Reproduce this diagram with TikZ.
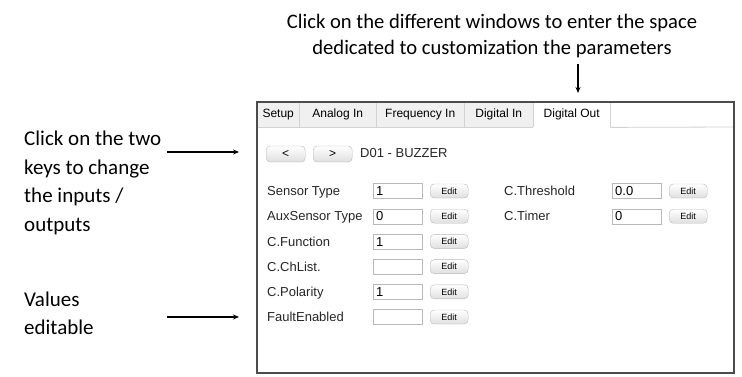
\documentclass[tikz,border=0pt]{standalone}
\usepackage{fontspec}
\setmainfont{Carlito}
\newfontfamily\uifont{Liberation Sans}
\usetikzlibrary{arrows.meta}

\tikzset{
  % multi-line notes: the node's base anchor sits on the last line's baseline
  note/.style={font=\fontsize{21}{28.5}\selectfont, align=left, inner sep=0pt, anchor=base west},
  topnote/.style={font=\fontsize{20.6}{26}\selectfont, align=center, inner sep=0pt, anchor=base},
  pointer/.style={line width=1.1pt, -{Stealth[length=6pt,width=5pt]}},
  tabcell/.style={fill=gray!12, minimum height=25pt, inner sep=0pt, anchor=north west,
                  font=\uifont\fontsize{12}{14}\selectfont},
  activetab/.style={tabcell, fill=white},
  tabrule/.style={draw=gray!35, line width=0.8pt},
  uilabel/.style={font=\uifont\fontsize{13}{15}\selectfont, inner sep=0pt, anchor=base west, text=black!85},
  field/.style={draw=gray!55, fill=white, minimum width=49pt, minimum height=15pt, inner sep=0pt,
                anchor=west},
  fieldtext/.style={font=\uifont\fontsize{13}{15}\selectfont, inner sep=0pt, anchor=base west},
  editbtn/.style={draw=gray!55, rounded corners=4pt, top color=white, bottom color=gray!25,
                  minimum width=38pt, minimum height=14pt, inner sep=0pt, anchor=west,
                  font=\uifont\fontsize{9}{10}\selectfont},
  navbtn/.style={draw=gray!55, rounded corners=4pt, top color=white, bottom color=gray!25,
                 minimum width=39pt, minimum height=16pt, inner sep=0pt, anchor=west,
                 font=\uifont\fontsize{12}{14}\selectfont},
}

\begin{document}
\begin{tikzpicture}[x=1pt,y=-1pt]
\useasboundingbox[fill=white] (0,0) rectangle (742,376);

% --- settings window ---
\fill[white] (257,102) rectangle (734,373);

% tab strip
\node[tabcell, minimum width=42pt]   (tabSetup)  at (257,102) {Setup};
\node[tabcell, minimum width=77pt]   (tabAnalog) at (299,102) {Analog In};
\node[tabcell, minimum width=88pt]   (tabFreq)   at (376,102) {Frequency In};
\node[tabcell, minimum width=69pt]   (tabDigIn)  at (464,102) {Digital In};
\node[activetab, minimum width=77pt] (tabDigOut) at (533,102) {Digital Out};
\draw[tabrule] (tabSetup.north east) -- (tabSetup.south east);
\draw[tabrule] (tabAnalog.north east) -- (tabAnalog.south east);
\draw[tabrule] (tabFreq.north east) -- (tabFreq.south east);
\draw[tabrule] (tabDigIn.north east) -- (tabDigIn.south east);
\draw[tabrule] (tabDigOut.north east) -- (tabDigOut.south east);
\draw[tabrule] (tabSetup.south west) -- (tabDigIn.south east);
\draw[tabrule] (tabDigOut.south east) -- (734,127);

% window frame
\draw[draw=gray!60!black, line width=1.4pt] (257,102) rectangle (734,373);

% channel selector
\node[navbtn] (prevBtn) at (266,154) {<};
\node[navbtn] (nextBtn) at (313,154) {>};
\node[uilabel] (chanName) at (360,157) {D01 - BUZZER};

% left column of parameters
\foreach \lbl/\val [count=\i from 0] in {Sensor Type/1, AuxSensor Type/0, C.Function/1,
                                         C.ChList./, C.Polarity/1, FaultEnabled/} {
  \pgfmathsetmacro{\yy}{191+25.2*\i}
  \node[uilabel] (lab\i) at (267,\yy+4.6) {\lbl};
  \node[field] (fld\i) at (373,\yy) {};
  \node[fieldtext] (val\i) at (376,\yy+4.6) {\val};
  \node[editbtn] (edit\i) at (430,\yy) {Edit};
}

% right column of parameters
\foreach \lbl/\val [count=\i from 0] in {C.Threshold/0.0, C.Timer/0} {
  \pgfmathsetmacro{\yy}{191+25.2*\i}
  \node[uilabel] (rlab\i) at (504,\yy+4.6) {\lbl};
  \node[field] (rfld\i) at (612,\yy) {};
  \node[fieldtext] (rval\i) at (615,\yy+4.6) {\val};
  \node[editbtn] (redit\i) at (669,\yy) {Edit};
}

% --- annotations ---
\node[topnote] (tabNote) at (492,54)
  {Click on the different windows to enter the space\\dedicated to customization the parameters};
\coordinate (tabArrowStart) at (578,64);
\coordinate (tabArrowEnd) at (578,93);
\draw[pointer] (tabArrowStart) -- (tabArrowEnd);

\node[note] (keysNote) at (24,231) {Click on the two\\keys to change\\the inputs /\\outputs};
\coordinate (keysArrowStart) at (167,152);
\coordinate (keysArrowEnd) at (239,152);
\draw[pointer] (keysArrowStart) -- (keysArrowEnd);

\node[note] (valuesNote) at (24,334.5) {Values\\editable};
\coordinate (valuesArrowStart) at (167,317);
\coordinate (valuesArrowEnd) at (239,317);
\draw[pointer] (valuesArrowStart) -- (valuesArrowEnd);
\end{tikzpicture}
\end{document}
